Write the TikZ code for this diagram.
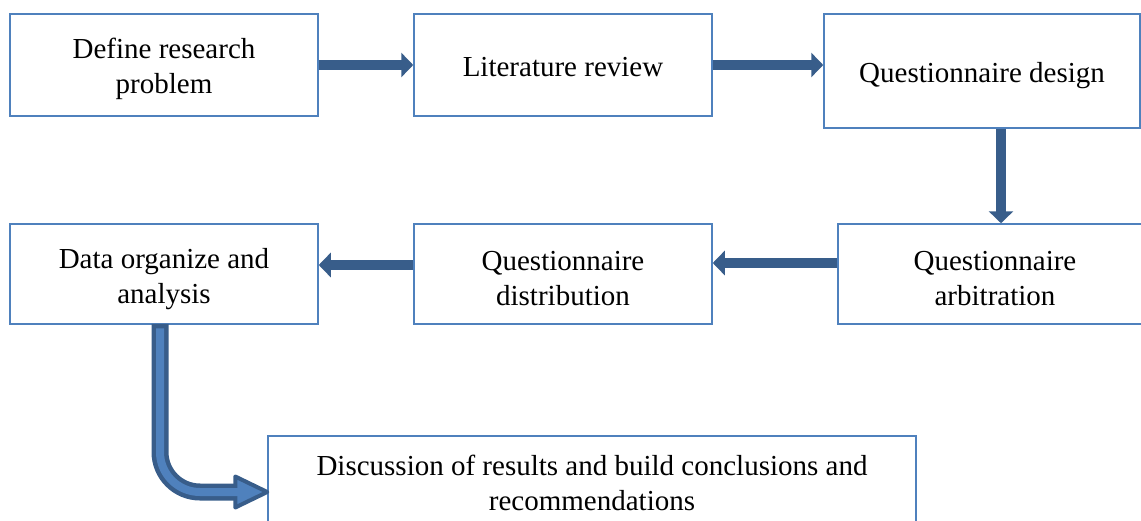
\documentclass[tikz,border=0pt]{standalone}
\usepackage{fontspec}
\setmainfont{Liberation Serif}
\usetikzlibrary{arrows.meta,calc}
\definecolor{boxblue}{RGB}{79,129,189}
\definecolor{arrdark}{RGB}{56,93,138}
\definecolor{arrlight}{RGB}{79,129,189}
\tikzset{
  flowbox/.style={draw=boxblue, line width=1.5pt, fill=white, inner sep=0pt},
  flowtext/.style={align=center, inner sep=0pt, font=\fontsize{29}{35}\selectfont},
  fatarrow/.style={draw=arrdark, line width=10pt, -{Triangle[length=12pt,width=24pt]}},
}
\begin{document}
\begin{tikzpicture}[x=1pt,y=-1pt]
\useasboundingbox (0,0) rectangle (1141,520);
\clip (0,0) rectangle (1141,520);
\node[flowbox, minimum width=308pt, minimum height=102pt] (b1) at (164,65) {};
\node[flowbox, minimum width=298pt, minimum height=102pt] (b2) at (563,65) {};
\node[flowbox, minimum width=316pt, minimum height=114pt] (b3) at (982,71) {};
\node[flowbox, minimum width=314pt, minimum height=100pt] (b4) at (995,274) {};
\node[flowbox, minimum width=298pt, minimum height=100pt] (b5) at (563,274) {};
\node[flowbox, minimum width=308pt, minimum height=100pt] (b6) at (164,274) {};
\node[flowbox, minimum width=648pt, minimum height=94pt] (b7) at (592,483) {};

\node[flowtext] (t1) at ([yshift=-4pt]b1.center) {Define research\\problem};
\node[flowtext] (t2) at ([yshift=-2.5pt]b2.center) {Literature review};
\node[flowtext] (t3) at ([yshift=-5pt]b3.center) {Questionnaire design};
\node[flowtext] (t4) at ([yshift=-4.5pt]b4.center) {Questionnaire\\arbitration};
\node[flowtext] (t5) at ([yshift=-4.5pt]b5.center) {Questionnaire\\distribution};
\node[flowtext] (t6) at ([yshift=-5pt]b6.center) {Data organize and\\analysis};
\node[flowtext] (t7) at (b7.center) {Discussion of results and build conclusions and\\recommendations};

\draw[fatarrow] (b1.east) -- (b2.west);
\draw[fatarrow] (b2.east) -- (b3.west |- b2.east);
\draw[fatarrow] ([xshift=19pt]b3.south) -- ([xshift=19pt]b3.south |- b4.north);
\draw[fatarrow] ([yshift=11pt]b4.west) -- ([yshift=11pt]b4.west -| b5.east);
\draw[fatarrow] ([yshift=9pt]b5.west) -- ([yshift=9pt]b5.west -| b6.east);

% bent arrow
\coordinate (tip) at ([yshift=-9pt]b7.west);
\coordinate (start) at ([xshift=-4pt,yshift=1pt]b6.south);
\coordinate (hb) at ($(tip)+(-32,0)$);
\draw[arrdark, line width=17pt, rounded corners=40pt] (start) |- ($(hb)+(2,0)$);
\draw[arrdark, line width=4pt, line join=round, fill=arrlight]
  ($(hb)+(0,-15.5)$) -- (tip) -- ($(hb)+(0,15.5)$) -- cycle;
\draw[arrlight, line width=8pt, rounded corners=40pt] ([yshift=-4.5pt]start) |- ($(hb)+(4,0)$);
\end{tikzpicture}
\end{document}
